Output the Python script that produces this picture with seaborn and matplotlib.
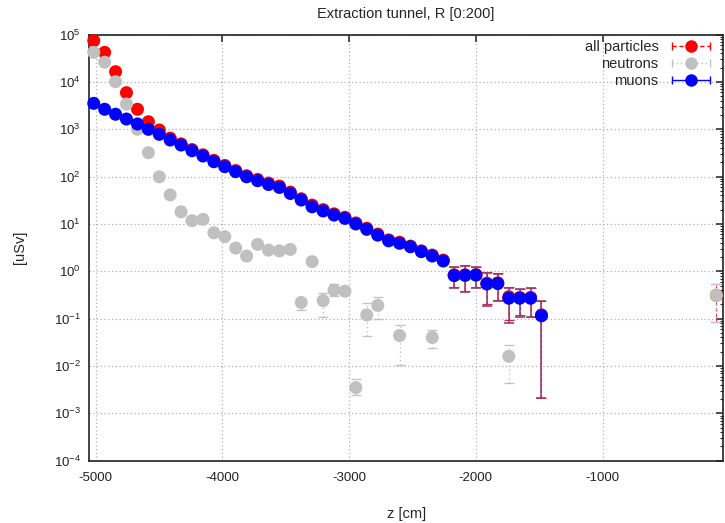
import numpy as np
import pandas as pd
import matplotlib
matplotlib.use("Agg")
import matplotlib.pyplot as plt
import seaborn as sns
from matplotlib.lines import Line2D
from matplotlib.legend_handler import HandlerLine2D
from matplotlib.ticker import LogLocator, NullFormatter, FixedLocator

# bin centres along the tunnel [cm]
z_all = [-5015, -4929, -4843, -4757, -4670, -4584, -4498, -4412, -4326, -4240,
         -4153, -4067, -3981, -3895, -3809, -3722, -3636, -3550, -3464, -3378,
         -3292, -3205, -3119, -3033, -2947, -2861, -2774, -2688, -2602, -2516,
         -2430, -2344, -2257, -2171, -2085, -1999, -1913, -1827, -1740, -1654,
         -1568, -1482, -102]
z_mu = z_all[:42]
z_neu = [-5015, -4929, -4843, -4757, -4670, -4584, -4498, -4412, -4326, -4240,
         -4153, -4067, -3981, -3895, -3809, -3722, -3636, -3550, -3464, -3378,
         -3292, -3205, -3119, -3033, -2947, -2861, -2774, -2602, -2344, -1740,
         -102]

# dose [uSv]
all_val = [74000, 42000, 16400, 5900, 2640, 1440, 964, 650, 490, 372,
           288, 220, 172, 134, 104, 87, 73, 63, 47, 34,
           25, 20, 16.3, 13.8, 10.5, 8.1, 6.1, 4.6, 4.1, 3.4,
           2.7, 2.2, 1.72, 0.84, 0.84, 0.85, 0.56, 0.57, 0.29, 0.28,
           0.28, 0.12, 0.31]
all_lo = [74000, 42000, 16400, 5900, 2640, 1440, 964, 650, 490, 372,
          288, 220, 172, 134, 104, 87, 73, 63, 47, 34,
          25, 20, 16.3, 13.8, 10.5, 8.1, 6.1, 4.6, 4.1, 3.4,
          2.7, 2.2, 1.72, 0.46, 0.38, 0.47, 0.2, 0.25, 0.093, 0.12,
          0.11, 0.0021, 0.087]
all_hi = [74000, 42000, 16400, 5900, 2640, 1440, 964, 650, 490, 372,
          288, 220, 172, 134, 104, 87, 73, 63, 47, 34,
          25, 20, 16.3, 13.8, 10.5, 8.1, 6.1, 4.6, 4.1, 3.4,
          2.7, 2.2, 1.72, 1.25, 1.33, 1.25, 0.95, 0.9, 0.47, 0.43,
          0.45, 0.24, 0.54]

neu_val = [42000, 26000, 10100, 3400, 1000, 320, 99, 41, 18, 11.7,
           12.5, 6.5, 5.4, 3.1, 2.1, 3.7, 2.8, 2.7, 2.9, 0.22,
           1.6, 0.24, 0.40, 0.38, 0.0035, 0.12, 0.19, 0.044, 0.040, 0.016,
           0.31]
neu_lo = [42000, 26000, 10100, 3400, 1000, 320, 99, 41, 18, 11.7,
          12.5, 6.5, 5.4, 3.1, 2.1, 3.7, 2.8, 2.7, 2.9, 0.15,
          1.6, 0.107, 0.30, 0.38, 0.0025, 0.043, 0.099, 0.0107, 0.024, 0.0044,
          0.087]
neu_hi = [42000, 26000, 10100, 3400, 1000, 320, 99, 41, 18, 11.7,
          12.5, 6.5, 5.4, 3.1, 2.1, 3.7, 2.8, 2.7, 2.9, 0.22,
          1.6, 0.34, 0.55, 0.38, 0.0052, 0.21, 0.28, 0.073, 0.057, 0.028,
          0.54]

mu_val = [3520, 2640, 2070, 1640, 1290, 995, 781, 592, 464, 352,
          272, 206, 162, 127, 99, 82, 68, 59, 44, 32,
          23, 18.8, 15.4, 13.1, 10.0, 7.7, 5.8, 4.4, 3.9, 3.3,
          2.6, 2.1, 1.65, 0.81, 0.82, 0.83, 0.54, 0.55, 0.27, 0.27,
          0.27, 0.115]
mu_lo = [3520, 2640, 2070, 1640, 1290, 995, 781, 592, 464, 352,
         272, 206, 162, 127, 99, 82, 68, 59, 44, 32,
         23, 18.8, 15.4, 13.1, 10.0, 7.7, 5.8, 4.4, 3.9, 3.3,
         2.6, 2.1, 1.65, 0.44, 0.36, 0.45, 0.185, 0.236, 0.080, 0.11,
         0.107, 0.0021]
mu_hi = [3520, 2640, 2070, 1640, 1290, 995, 781, 592, 464, 352,
         272, 206, 162, 127, 99, 82, 68, 59, 44, 32,
         23, 18.8, 15.4, 13.1, 10.0, 7.7, 5.8, 4.4, 3.9, 3.3,
         2.6, 2.1, 1.65, 1.22, 1.31, 1.22, 0.93, 0.88, 0.45, 0.42,
         0.44, 0.236]

x_ticks = [-5000, -4000, -3000, -2000, -1000]

sns.set_style("white")
plt.rcParams["font.family"] = ["Liberation Sans", "DejaVu Sans"]
plt.rcParams["axes.unicode_minus"] = False
plt.rcParams["mathtext.default"] = "regular"

fig = plt.figure(figsize=(7.25, 5.23), dpi=100)
ax = fig.add_axes([0.1232, 0.1191, 0.8740, 0.8149])

# name, z, values, lower, upper, marker colour, bar colour, bar style, bar width, zorder
series = [
    ("all particles", z_all, all_val, all_lo, all_hi, "#ff0000", "#e0204a", (0, (3, 2)), 0.8, 3),
    ("neutrons", z_neu, neu_val, neu_lo, neu_hi, "#c0c0c0", "#c4c4c4", (0, (1, 2)), 1.0, 5),
    ("muons", z_mu, mu_val, mu_lo, mu_hi, "#0000ff", "#9a3c6c", "-", 1.2, 7),
]

for name, z, val, lo, hi, color, ecolor, ls, lw, zo in series:
    v = np.array(val)
    yerr = [v - np.array(lo), np.array(hi) - v]
    eb = ax.errorbar(z, v, yerr=yerr, fmt="none", ecolor=ecolor, elinewidth=lw,
                     capsize=3.5, capthick=lw, zorder=zo)
    eb[2][0].set_linestyle(ls)
    df = pd.DataFrame({"z": z, "dose": val})
    sns.scatterplot(data=df, x="z", y="dose", color=color, s=88,
                    edgecolor="none", linewidth=0, ax=ax, zorder=zo + 1,
                    legend=False, clip_on=False)

ax.set_yscale("log")
ax.set_xlim(-5050, -50)
ax.set_ylim(1e-4, 1e5)
ax.xaxis.set_major_locator(FixedLocator(x_ticks))
ax.yaxis.set_major_locator(LogLocator(base=10, numticks=20))
ax.yaxis.set_minor_locator(LogLocator(base=10, subs=np.arange(2, 10), numticks=100))
ax.yaxis.set_minor_formatter(NullFormatter())

ax.grid(True, which="major", color="#b0b0b0", linestyle=(0, (1, 2)), linewidth=0.9)
ax.set_axisbelow(True)
for s in ax.spines.values():
    s.set_color("#222222")
    s.set_linewidth(1.2)
ax.tick_params(which="both", direction="in", top=True, right=True, colors="#222222",
               labelsize=9.5)
ax.tick_params(which="major", length=5, width=1.1)
ax.tick_params(which="minor", length=2.5, width=0.8)
ax.tick_params(axis="x", pad=8)
ax.tick_params(axis="y", pad=6)

ax.set_title("Extraction tunnel, R [0:200]", fontsize=10.5, pad=12)
ax.set_xlabel("z [cm]", fontsize=10.5, labelpad=17)
ax.set_ylabel("[uSv]", fontsize=10.5, labelpad=19)

# gnuplot-like legend: label on the left, |--o--| sample on the right
handles = []
hmap = {}
for name, z, val, lo, hi, color, ecolor, ls, lw, zo in series:
    bar = Line2D([], [], color=color, linestyle=ls, linewidth=1, marker="|",
                 markersize=6, markeredgewidth=1)
    dot = Line2D([], [], color=color, linestyle="none", marker="o", markersize=9,
                 markeredgecolor="none")
    hmap[bar] = HandlerLine2D(numpoints=2)
    handles.append((bar, dot))
ax.legend(handles, [s[0] for s in series], handler_map=hmap, loc="upper right",
          bbox_to_anchor=(714 / 725, 1 - 40 / 523), bbox_transform=fig.transFigure,
          frameon=False, markerfirst=False, fontsize=10.5, borderpad=0,
          borderaxespad=0, handlelength=3.2, handletextpad=0.6, labelspacing=0.2)

fig.savefig("out.png", dpi=100)
